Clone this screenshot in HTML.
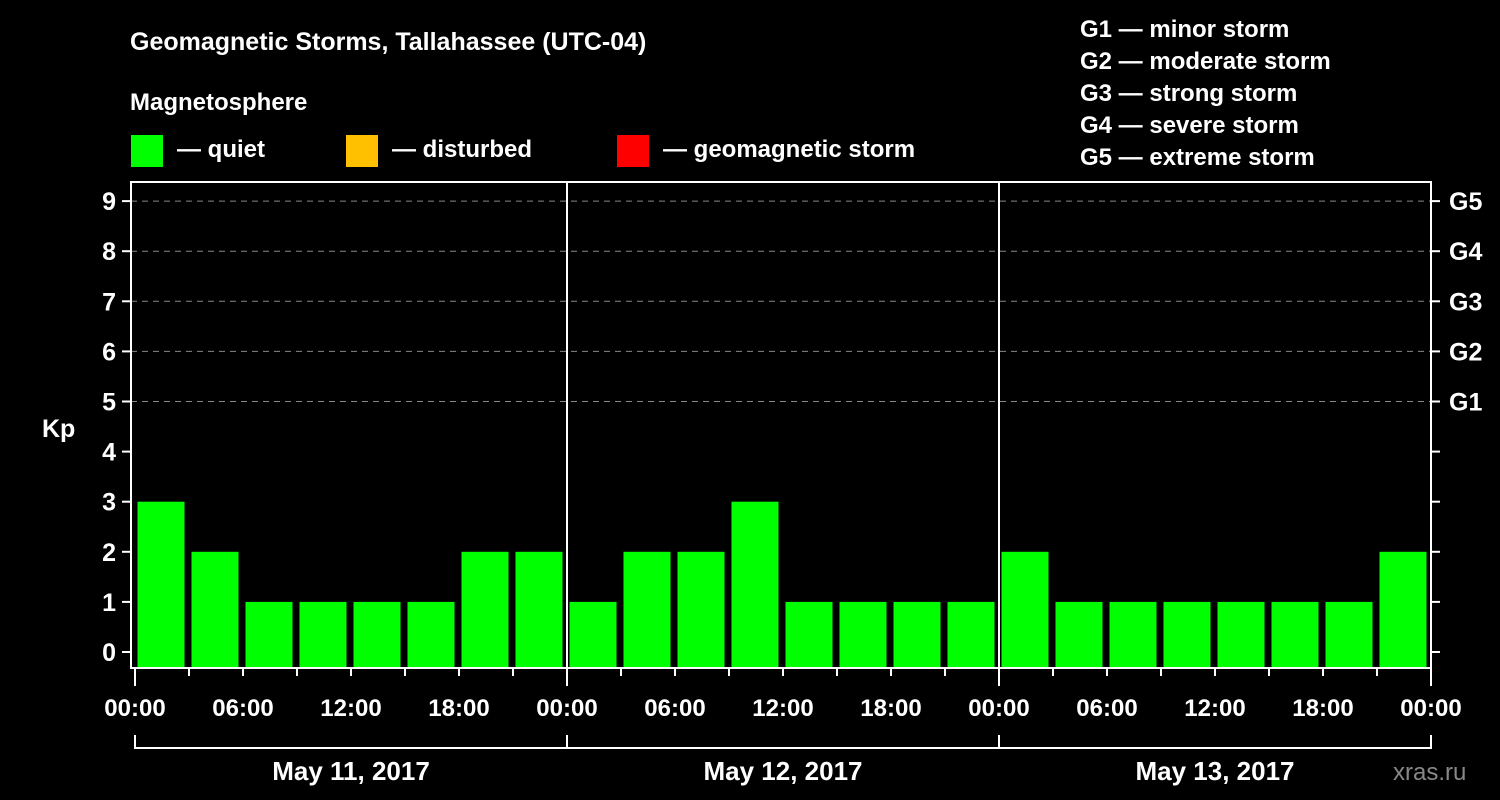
<!DOCTYPE html>
<html><head><meta charset="utf-8"><style>
body{margin:0;background:#000;}
svg{display:block;font-family:"Liberation Sans",Arial,sans-serif;font-weight:bold;}
</style></head><body>
<svg id="chart" width="1500" height="800" viewBox="0 0 1500 800">
<rect width="1500" height="800" fill="#000"/>
<text x="130" y="50" fill="#fff" font-size="25">Geomagnetic Storms, Tallahassee (UTC-04)</text>
<text x="130" y="110" fill="#fff" font-size="24">Magnetosphere</text>
<g><rect x="131" y="135" width="32" height="32" fill="#00ff00"/><text x="177" y="157" fill="#fff" font-size="24">— quiet</text></g>
<g><rect x="346" y="135" width="32" height="32" fill="#ffc000"/><text x="392" y="157" fill="#fff" font-size="24">— disturbed</text></g>
<g><rect x="617" y="135" width="32" height="32" fill="#ff0000"/><text x="663" y="157" fill="#fff" font-size="24">— geomagnetic storm</text></g>
<g fill="#fff" font-size="24">
<text x="1080" y="37">G1 — minor storm</text>
<text x="1080" y="69">G2 — moderate storm</text>
<text x="1080" y="101">G3 — strong storm</text>
<text x="1080" y="133">G4 — severe storm</text>
<text x="1080" y="165">G5 — extreme storm</text>
</g>
<text x="42" y="437" fill="#fff" font-size="25">Kp</text>
<text x="1393" y="780" fill="#888" font-size="24" font-weight="normal">xras.ru</text>
<g id="grid"></g><g id="bars"></g><g id="axes"></g>
</svg>
<script>
const kpValues=[3,2,1,1,1,1,2,2,1,2,2,3,1,1,1,1,2,1,1,1,1,1,1,2,2];
const dayLabels=["May 11, 2017","May 12, 2017","May 13, 2017"];
const hourLabels=["00:00","06:00","12:00","18:00"];
const gLabels=["G1","G2","G3","G4","G5"];
const NS="http://www.w3.org/2000/svg";
const L=131,R=1431,T=182,B=668,X0=135,DAY=432;
const xOf=h=>X0+h*DAY/24;
const yOf=v=>652-v*50.1;
function mk(tag,attrs,parent,txt){const e=document.createElementNS(NS,tag);for(const k in attrs)e.setAttribute(k,attrs[k]);if(txt!==undefined)e.textContent=txt;document.getElementById(parent).appendChild(e);return e;}
for(let v=0;v<=9;v++){
  if(v>=5){const g=mk('line',{x1:L,x2:R,y1:yOf(v),y2:yOf(v),stroke:'#888','stroke-dasharray':'6,5','stroke-width':1},'grid');
  
  }
  const t=mk('text',{x:116,y:yOf(v)+9,fill:'#fff','font-size':25,'text-anchor':'end'},'axes',String(v));
  
  
  mk('line',{x1:122,x2:L,y1:yOf(v),y2:yOf(v),stroke:'#fff','stroke-width':2},'axes');
  mk('line',{x1:R,x2:R+9,y1:yOf(v),y2:yOf(v),stroke:'#fff','stroke-width':2},'axes');
}
gLabels.forEach((g,i)=>{const t=mk('text',{x:1449,y:yOf(5+i)+9,fill:'#fff','font-size':25},'axes',g);

});
kpValues.forEach((v,i)=>{
  const c=xOf(1.5+3*i)-9.5+8.5;
  let x1=Math.max(c-23.5,L+3),x2=Math.min(c+23.5,R-2);
  const b=mk('rect',{x:x1,y:yOf(v),width:x2-x1,height:B-yOf(v),fill:v>=5?'#ff0000':(v>=4?'#ffc000':'#00ff00')},'bars');
  
  
});
const f=mk('rect',{x:L,y:T,width:R-L,height:B-T,fill:'none',stroke:'#fff','stroke-width':2},'axes');


for(let d=1;d<3;d++)mk('line',{x1:xOf(24*d),x2:xOf(24*d),y1:T,y2:B,stroke:'#fff','stroke-width':2},'axes');
for(let h=0;h<=72;h+=3){
  const x=Math.min(xOf(h),R);
  mk('line',{x1:x,x2:x,y1:B,y2:B+(h%24==0?18:8),stroke:'#fff','stroke-width':2},'axes');
  if(h%6==0){const t=mk('text',{x:x,y:716,fill:'#fff','font-size':24,'text-anchor':'middle'},'axes',hourLabels[(h%24)/6]);
  
  }
}
dayLabels.forEach((d,i)=>{
  const a=xOf(24*i),b=Math.min(xOf(24*i+24),R);
  mk('path',{d:`M${a},735 V748 H${b} V735`,stroke:'#fff','stroke-width':2,fill:'none'},'axes');
  const t=mk('text',{x:(a+b)/2,y:780,fill:'#fff','font-size':26,'text-anchor':'middle'},'axes',d);
  
  
});
</script>
</body></html>
